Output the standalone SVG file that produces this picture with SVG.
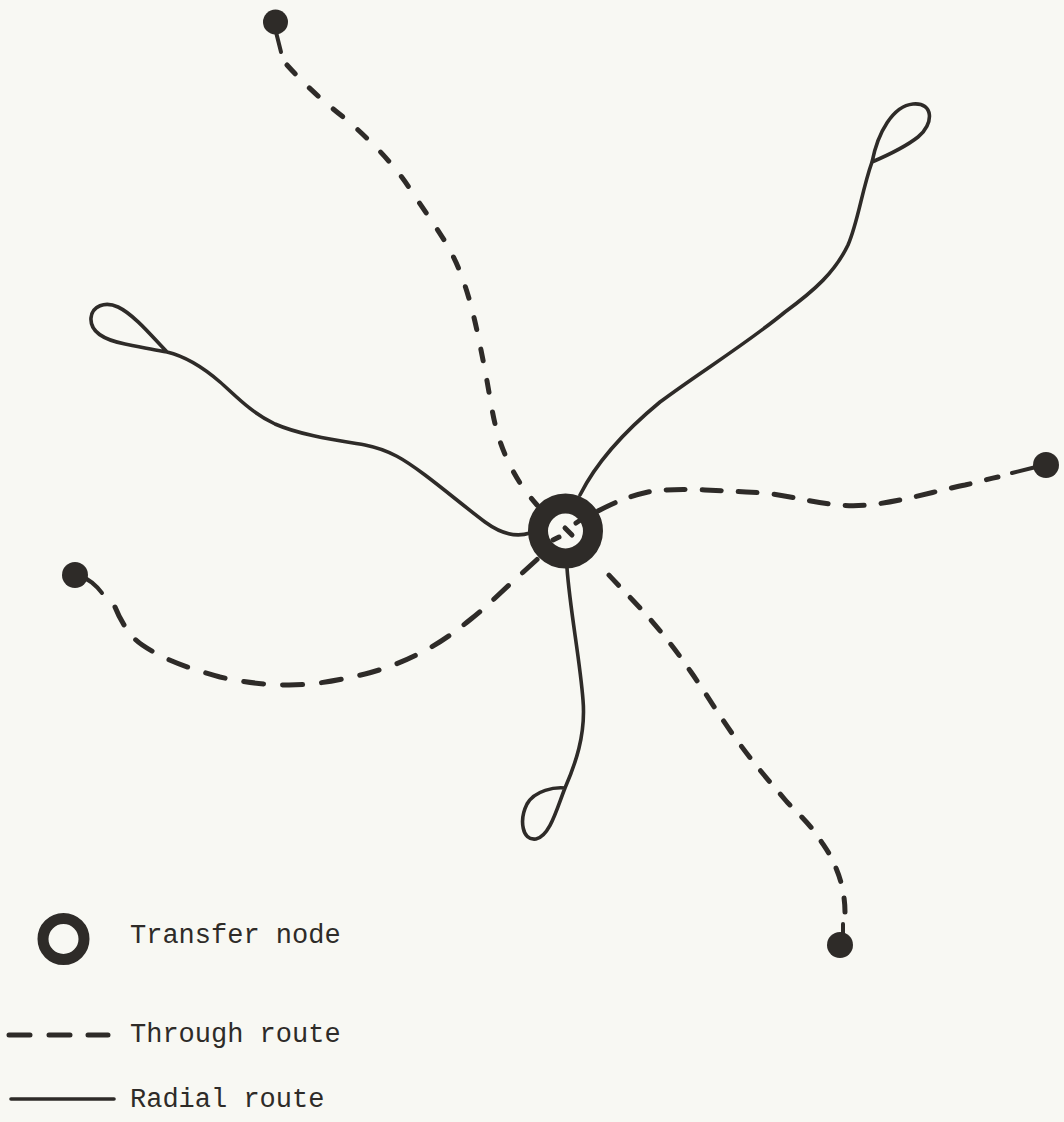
<svg xmlns="http://www.w3.org/2000/svg" width="1064" height="1122" viewBox="0 0 1064 1122">
<style>
.bg{fill:#f8f8f3}
.through{fill:none;stroke:#2e2b28;stroke-width:5;stroke-linecap:round;stroke-linejoin:round}
.radial{fill:none;stroke:#2e2b28;stroke-width:3.6;stroke-linecap:round;stroke-linejoin:round}
.stub{fill:none;stroke:#2e2b28;stroke-width:4;stroke-linecap:round}
.end{fill:#2e2b28}
.ring{fill:none;stroke:#2e2b28}
.label{font-family:"Liberation Mono","DejaVu Sans Mono",monospace;font-size:27px;fill:#2e2b28}
</style>
<rect class="bg" x="0" y="0" width="1064" height="1122"/>
<g id="connectors">
  <g id="route-top-bottomright">
    <path class="stub" d="M275,28 L281,52"/>
    <path class="through" stroke-dasharray="12 20" d="M287,65 C305,85 325,103 347,120 C372,142 395,165 412,192 C432,222 450,245 460,272 C472,302 478,335 484,365 C490,395 492,415 498,435 C504,455 512,470 520,483 C526,492 531,498 537,505"/>
    <path class="through" stroke-dasharray="14 17" d="M845,912 C845,898 842,882 836,868 C831,855 826,849 819,838 C811,826 800,815 787,802 C770,782 755,765 739,743 C722,720 707,695 691,672 C676,650 660,630 643,611 C628,595 613,580 598,563"/>
    <path class="stub" d="M843,924 L843,936"/>
  </g>
  <g id="route-left-right">
    <path class="stub" d="M80,576 Q92,580 102,593"/>
    <path class="through" stroke-dasharray="20 19" d="M115,607 C119,617 125,628 133,637 C140,645 150,650 163,657 C180,665 198,671 220,677 C242,682 265,685 289,685 C315,685 340,680 365,674 C385,669 405,661 422,652 C440,643 455,632 471,619 C485,608 495,598 509,585 C520,575 530,566 542,555"/>
    <path class="through" stroke-dasharray="19 17" d="M598,511 C615,502 630,496 648,492 C665,489 685,489 705,490 C730,491 745,492 765,493 C795,497 815,503 840,505 C860,507 880,504 900,500 C920,496 945,489 965,485 C978,482 988,479 998,477"/>
    <path class="stub" d="M1012,473 L1036,467"/>
    <path class="through" d="M553,540 L559,537 M565,528 L572,535 M576,523 L582,519"/>
  </g>
  <path id="radial-upper-right" class="radial" d="M580,495 C595,465 620,435 660,402 C700,372 745,345 785,312 C815,290 835,272 848,245 C858,222 862,190 872,162 C878,132 893,106 913,104 C934,102 934,124 918,137 C904,148 886,156 872,162"/>
  <path id="radial-upper-left" class="radial" d="M530,533 C515,538 500,533 485,522 C465,507 445,490 425,475 C405,460 390,450 365,445 C335,440 300,435 275,424 C250,412 235,395 220,382 C205,369 188,357 167,352 C155,340 135,315 118,307 C105,301 92,306 91,318 C90,332 105,340 125,344 C140,347 155,350 167,352"/>
  <path id="radial-bottom" class="radial" d="M567,568 C570,610 580,660 583,700 C586,735 575,765 565,788 C555,787 535,790 527,804 C519,820 522,841 536,839 C550,836 557,808 565,788"/>
</g>
<g id="transfer-node">
  <circle class="ring" cx="565.5" cy="531" r="27.5" stroke-width="20"/>
</g>
<g id="end-top"><circle class="end" cx="275.5" cy="22" r="12.5"/></g>
<g id="end-right"><circle class="end" cx="1046" cy="465" r="13"/></g>
<g id="end-left"><circle class="end" cx="75" cy="575" r="13"/></g>
<g id="end-bottom-right"><circle class="end" cx="840" cy="945" r="13"/></g>
<g id="legend">
  <g id="legend-transfer">
    <circle class="ring" cx="63.5" cy="939" r="20.5" stroke-width="11"/>
    <text class="label" x="130" y="943">Transfer node</text>
  </g>
  <g id="legend-through">
    <path class="through" stroke-width="6" d="M9,1035 L30,1035 M49,1035 L70,1035 M88,1035 L108,1035"/>
    <text class="label" x="130" y="1042">Through route</text>
  </g>
  <g id="legend-radial">
    <path class="radial" stroke-width="5" d="M11,1099 L114,1099"/>
    <text class="label" x="130" y="1107">Radial route</text>
  </g>
</g>
</svg>
